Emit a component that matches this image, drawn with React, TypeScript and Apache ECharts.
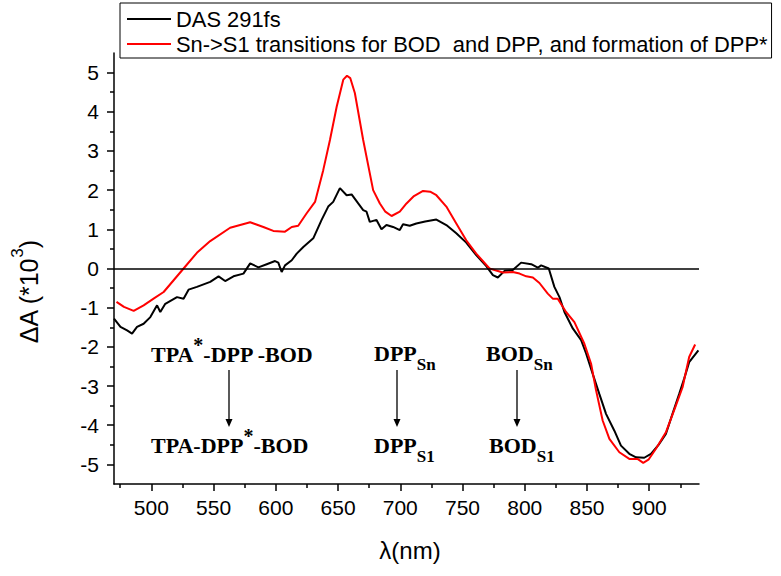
import React, { useEffect, useRef } from 'react';
import * as echarts from 'echarts';

// DAS 291fs (black)
const dasX = [470, 475.2, 480.5, 484.5, 488.5, 493.8, 499.2, 504.6, 507.2, 511.2, 520.6, 525.9, 529.9, 536.6, 547.3, 554, 559.3, 566, 574, 579.4, 586, 592.7, 599.4, 602, 604.7, 607.4, 612.8, 616.8, 622.1, 630.1, 636.8, 642.1, 646.1, 651.5, 656.9, 660.9, 666.2, 670.2, 672.9, 675.5, 680.9, 684.9, 688.9, 694.2, 699.6, 702.2, 707.6, 712.9, 720, 729, 737, 745, 753, 761, 769.1, 774.4, 778.4, 783.8, 790.4, 797.1, 805.2, 810.5, 813.2, 819.3, 823.8, 827.9, 831.9, 838.6, 845.3, 849.3, 854.6, 859.9, 865.3, 872, 877.3, 884, 889.4, 896, 901.4, 908, 913.4, 918.7, 924.1, 928.1, 932.1, 939.5];
const dasY = [-1.28, -1.49, -1.58, -1.66, -1.49, -1.41, -1.24, -0.94, -1.11, -0.9, -0.73, -0.77, -0.54, -0.47, -0.34, -0.2, -0.32, -0.2, -0.13, 0.13, 0.03, 0.11, 0.19, 0.15, -0.09, 0.08, 0.21, 0.38, 0.55, 0.77, 1.24, 1.58, 1.7, 2.05, 1.87, 1.89, 1.66, 1.49, 1.45, 1.19, 1.24, 1.0, 1.11, 1.06, 0.98, 1.13, 1.09, 1.15, 1.2, 1.25, 1.11, 0.9, 0.66, 0.34, 0.06, -0.17, -0.23, -0.06, -0.04, 0.15, 0.11, 0.02, 0.08, 0.0, -0.47, -0.73, -1.11, -1.53, -1.83, -2.17, -2.69, -3.2, -3.71, -4.14, -4.52, -4.73, -4.82, -4.83, -4.73, -4.48, -4.22, -3.71, -3.2, -2.81, -2.39, -2.09];

// Sn->S1 transitions (red)
const snX = [472, 478, 485.8, 493.8, 501.8, 509.9, 517.9, 525.9, 536.6, 547.3, 563.3, 579.4, 590, 598, 607.4, 612.8, 618, 624.8, 631.5, 638.1, 643.5, 648.9, 654.2, 657.2, 659.8, 663.5, 670.2, 678.2, 683.6, 688, 693, 699.6, 705, 711, 718.3, 724, 729, 737, 745, 753, 761, 771.7, 782.4, 790.4, 795.8, 801.2, 806.5, 811.8, 818.5, 822.5, 826.5, 833.2, 839.9, 847.9, 853.3, 857.3, 862.6, 868, 876, 884, 890.6, 895.2, 899.4, 905.4, 913.4, 921.4, 926.8, 932.1, 936.9];
const snY = [-0.85, -0.98, -1.08, -0.94, -0.77, -0.6, -0.3, 0, 0.4, 0.7, 1.04, 1.18, 1.06, 0.96, 0.94, 1.06, 1.09, 1.41, 1.7, 2.51, 3.28, 4.13, 4.82, 4.92, 4.86, 4.48, 3.28, 2.0, 1.66, 1.45, 1.34, 1.45, 1.66, 1.85, 1.98, 1.96, 1.87, 1.58, 1.15, 0.72, 0.38, 0, -0.1, -0.09, -0.13, -0.2, -0.23, -0.37, -0.64, -0.77, -0.77, -1.11, -1.37, -1.92, -2.43, -3.11, -3.88, -4.35, -4.69, -4.86, -4.86, -4.96, -4.88, -4.6, -4.18, -3.5, -3.03, -2.26, -1.94];

const seriesNames = ['DAS 291fs', 'Sn->S1 transitions for BOD  and DPP, and formation of DPP*'];
const xMajorTicks = [500, 550, 600, 650, 700, 750, 800, 850, 900];
const xMinorTicks = [475, 525, 575, 625, 675, 725, 775, 825, 875, 925];
const yMajorTicks = [-5, -4, -3, -2, -1, 0, 1, 2, 3, 4, 5];
const yMinorTicks = [-4.5, -3.5, -2.5, -1.5, -0.5, 0.5, 1.5, 2.5, 3.5, 4.5];

const SANS = '"Liberation Sans", Arial, sans-serif';
const SERIF = '"Liberation Serif", "Times New Roman", serif';

// annotation line with a raised asterisk (one rich text)
function starLine(before: string, after: string, x: number, y: number) {
  return {
    type: 'text',
    x,
    y,
    silent: true,
    style: {
      text: `{n|${before}}{s|*}{n|${after}}`,
      align: 'left',
      verticalAlign: 'middle',
      textAlign: 'left',
      textVerticalAlign: 'middle',
      fill: '#000',
      rich: {
        n: { fontFamily: SERIF, fontWeight: 'bold', fontSize: 22, lineHeight: 38, fill: '#000', color: '#000' },
        s: { fontFamily: SERIF, fontWeight: 'bold', fontSize: 20, verticalAlign: 'top', fill: '#000', color: '#000' },
      },
    },
  };
}

// annotation with a lowered subscript (one rich text); y = centre of main text
function subLabel(main: string, sub: string, x: number, y: number) {
  return {
    type: 'text',
    x,
    y: y + 4.25,
    silent: true,
    style: {
      text: `{m|${main}}{s|${sub}}`,
      align: 'left',
      verticalAlign: 'middle',
      textAlign: 'left',
      textVerticalAlign: 'middle',
      fill: '#000',
      rich: {
        m: { fontFamily: SERIF, fontWeight: 'bold', fontSize: 22, lineHeight: 22, verticalAlign: 'top', fill: '#000', color: '#000' },
        s: { fontFamily: SERIF, fontWeight: 'bold', fontSize: 17, lineHeight: 30.5, verticalAlign: 'bottom', fill: '#000', color: '#000' },
      },
    },
  };
}

function arrow(x: number, y1: number, y2: number) {
  return [
    { type: 'line', silent: true, shape: { x1: x, y1, x2: x, y2: y2 - 6 }, style: { stroke: '#000', lineWidth: 1.3 } },
    { type: 'polygon', silent: true, shape: { points: [[x - 3.5, y2 - 8], [x + 3.5, y2 - 8], [x, y2]] }, style: { fill: '#000' } },
  ];
}

export default function App() {
  const ref = useRef<HTMLDivElement>(null);
  useEffect(() => {
    if (!ref.current) return;
    const chart = echarts.init(ref.current, null, { renderer: 'svg' });
    const axisColor = '#000';
    const xAxisBase = { type: 'value', min: 470, max: 940, position: 'bottom', splitLine: { show: false } };
    const yAxisBase = { type: 'value', min: -5.5, max: 5.5, position: 'left', splitLine: { show: false } };
    const option: any = {
      animation: false,
      backgroundColor: '#fff',
      color: ['#000000', '#ff0000'],
      grid: { left: 114, right: 82, top: 53, bottom: 92, containLabel: false },
      legend: {
        orient: 'vertical',
        left: 120,
        top: 3,
        padding: [5, 4, 3, 7],
        itemGap: 3,
        itemWidth: 44,
        itemHeight: 2,
        icon: 'rect',
        borderColor: '#000',
        borderWidth: 1,
        borderRadius: 0,
        textStyle: { fontFamily: SANS, fontSize: 21.9, color: '#000' },
        data: seriesNames,
      },
      xAxis: [
        {
          ...xAxisBase,
          axisLine: { show: true, onZero: false, lineStyle: { color: axisColor, width: 1.5 } },
          axisTick: { show: true, inside: false, length: 7, customValues: xMajorTicks, lineStyle: { color: axisColor, width: 1.5 } },
          axisLabel: { show: true, margin: 13, customValues: xMajorTicks, fontFamily: SANS, fontSize: 21, color: '#000' },
        },
        {
          ...xAxisBase,
          axisLine: { show: false, onZero: false },
          axisTick: { show: true, inside: false, length: 4, customValues: xMinorTicks, lineStyle: { color: axisColor, width: 1.5 } },
          axisLabel: { show: false },
        },
      ],
      yAxis: [
        {
          ...yAxisBase,
          axisLine: { show: true, onZero: false, lineStyle: { color: axisColor, width: 1.5 } },
          axisTick: { show: true, inside: false, length: 7, customValues: yMajorTicks, lineStyle: { color: axisColor, width: 1.5 } },
          axisLabel: { show: true, margin: 15, customValues: yMajorTicks, fontFamily: SANS, fontSize: 21, color: '#000' },
        },
        {
          ...yAxisBase,
          axisLine: { show: false, onZero: false },
          axisTick: { show: true, inside: false, length: 4, customValues: yMinorTicks, lineStyle: { color: axisColor, width: 1.5 } },
          axisLabel: { show: false },
        },
      ],
      series: [
        {
          name: seriesNames[0],
          type: 'line',
          xAxisIndex: 0,
          yAxisIndex: 0,
          symbol: 'none',
          data: dasX.map((x, i) => [x, dasY[i]]),
          lineStyle: { color: '#000', width: 2 },
          itemStyle: { color: '#000' },
          markLine: {
            silent: true,
            symbol: ['none', 'none'],
            label: { show: false },
            lineStyle: { color: '#000', width: 1.5, type: 'solid' },
            data: [{ yAxis: 0 }],
          },
          z: 2,
        },
        {
          name: seriesNames[1],
          type: 'line',
          xAxisIndex: 0,
          yAxisIndex: 0,
          symbol: 'none',
          data: snX.map((x, i) => [x, snY[i]]),
          lineStyle: { color: '#ff0000', width: 2 },
          itemStyle: { color: '#ff0000' },
          z: 3,
        },
      ],
      graphic: [
        {
          type: 'text',
          x: 29,
          y: 292,
          rotation: Math.PI / 2,
          silent: true,
          style: {
            text: '{a|ΔA (*10}{b|3}{a|)}',
            fill: '#000',
            align: 'center',
            verticalAlign: 'middle',
            textAlign: 'center',
            textVerticalAlign: 'middle',
            rich: {
              a: { fontFamily: SANS, fontSize: 25, lineHeight: 40, fill: '#000', color: '#000' },
              b: { fontFamily: SANS, fontSize: 17, verticalAlign: 'top', fill: '#000', color: '#000' },
            },
          },
        },
        {
          type: 'text',
          x: 410,
          y: 550,
          silent: true,
          style: {
            text: 'λ(nm)',
            font: `24px ${SANS}`,
            fill: '#000',
            align: 'center',
            verticalAlign: 'middle',
            textAlign: 'center',
            textVerticalAlign: 'middle',
          },
        },
        starLine('TPA', '-DPP -BOD', 151, 354),
        ...arrow(229, 370, 427),
        starLine('TPA-DPP', '-BOD', 151, 445),
        subLabel('DPP', 'Sn', 374, 353),
        ...arrow(397, 370, 427),
        subLabel('DPP', 'S1', 374, 445),
        subLabel('BOD', 'Sn', 486, 353),
        ...arrow(517, 370, 427),
        subLabel('BOD', 'S1', 489, 445),
      ],
    };
    chart.setOption(option);
    return () => chart.dispose();
  }, []);
  return <div ref={ref} style={{ position: 'absolute', left: 0, top: 0, width: 781, height: 576 }} />;
}
